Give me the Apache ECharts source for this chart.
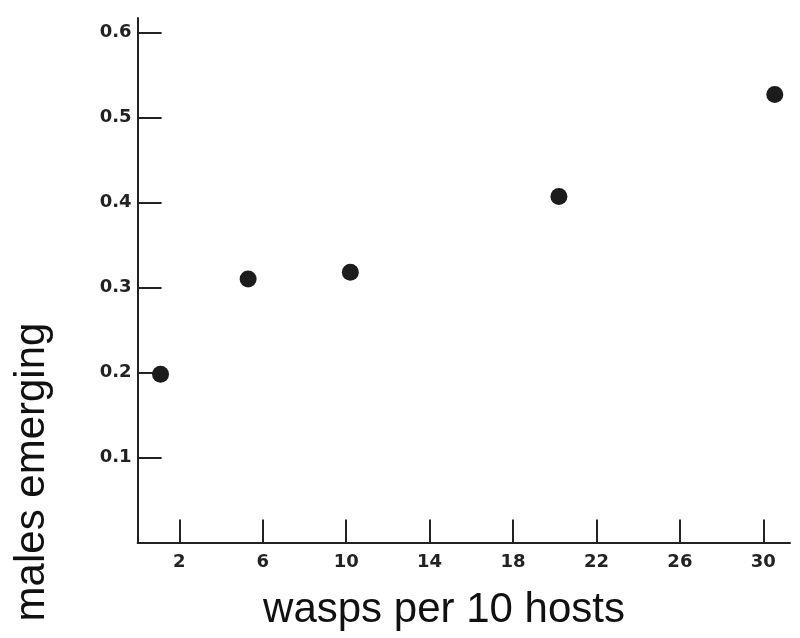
<!DOCTYPE html>
<html>
<head>
<meta charset="utf-8">
<script src="https://cdn.jsdelivr.net/npm/echarts@6/dist/echarts.min.js"></script>
<style>
  html, body { margin: 0; padding: 0; background: #fff; }
  #chart { width: 800px; height: 638px; }
</style>
</head>
<body>
<div id="chart"></div>
<script>
// wasps per 10 hosts vs. proportion of males emerging
const waspDensity = [1.1, 5.3, 10.2, 20.2, 30.55]
const malesEmerging = [0.198, 0.31, 0.318, 0.407, 0.527]
const xTicks = [2, 6, 10, 14, 18, 22, 26, 30]
const yTicks = [0.1, 0.2, 0.3, 0.4, 0.5, 0.6]

const ink = '#222'
const labelFont = {
  color: ink,
  fontFamily: 'DejaVu Sans',
  fontWeight: 'bold',
  fontSize: 18
}

const chart = echarts.init(document.getElementById('chart'))
chart.setOption({
  animation: false,
  backgroundColor: '#fff',
  grid: { left: 137.6, right: 10, top: 18, bottom: 95.5 },
  xAxis: {
    type: 'value',
    min: 0,
    max: 31.28,
    splitLine: { show: false },
    axisLine: { show: true, lineStyle: { color: ink, width: 2 } },
    axisTick: {
      show: true,
      inside: true,
      length: 23,
      customValues: xTicks,
      lineStyle: { color: ink, width: 2 }
    },
    axisLabel: Object.assign({ margin: 11, customValues: xTicks }, labelFont)
  },
  yAxis: {
    type: 'value',
    min: 0,
    max: 0.617,
    splitLine: { show: false },
    axisLine: { show: true, lineStyle: { color: ink, width: 2 } },
    axisTick: {
      show: true,
      inside: true,
      length: 24,
      customValues: yTicks,
      lineStyle: { color: ink, width: 2 }
    },
    axisLabel: Object.assign({
      margin: 6,
      customValues: yTicks,
      formatter: v => v.toFixed(1)
    }, labelFont)
  },
  graphic: [
    {
      type: 'text',
      x: 444,
      y: 610,
      style: {
        text: 'wasps per 10 hosts',
        fill: '#111',
        font: '42px "Liberation Sans", Arial, sans-serif',
        textAlign: 'center',
        textVerticalAlign: 'middle'
      }
    },
    {
      type: 'text',
      x: 32,
      y: 472,
      rotation: Math.PI / 2,
      style: {
        text: 'males emerging',
        fill: '#111',
        font: '42px "Liberation Sans", Arial, sans-serif',
        textAlign: 'center',
        textVerticalAlign: 'middle'
      }
    }
  ],
  series: [
    {
      type: 'scatter',
      symbol: 'circle',
      symbolSize: 17,
      itemStyle: { color: '#1c1c1c', opacity: 1 },
      data: waspDensity.map((x, i) => [x, malesEmerging[i]])
    }
  ]
})
</script>
</body>
</html>
